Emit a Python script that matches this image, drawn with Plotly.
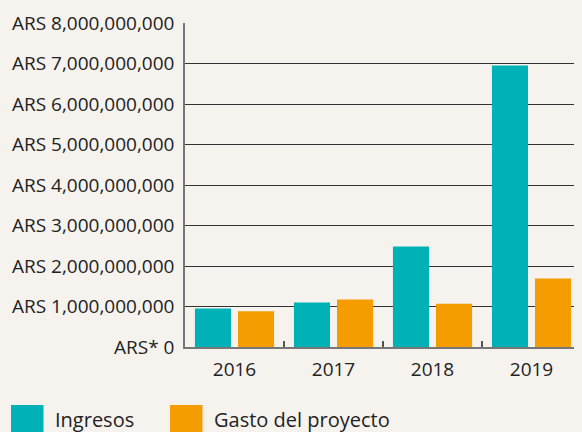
import plotly.graph_objects as go

years = ["2016", "2017", "2018", "2019"]
ingresos = [0.95e9, 1.10e9, 2.48e9, 6.95e9]
gasto = [0.88e9, 1.17e9, 1.07e9, 1.69e9]
series_names = ["Ingresos", "Gasto del proyecto"]
tick_vals = [0, 1e9, 2e9, 3e9, 4e9, 5e9, 6e9, 7e9, 8e9]
tick_text = ["ARS* 0", "ARS 1,000,000,000", "ARS 2,000,000,000", "ARS 3,000,000,000",
             "ARS 4,000,000,000", "ARS 5,000,000,000", "ARS 6,000,000,000",
             "ARS 7,000,000,000", "ARS 8,000,000,000"]

TEAL = "#00b1b7"
ORANGE = "#f59c00"
BG = "#f6f3ee"
TXT = "#222222"
FONT = "Open Sans"

OFF = 8  # page body margin offset
W, H = 582, 432
# desired screen positions of the plot area
SX0, SX1, SY0, SY1 = 185, 581, 23, 347
L, T = SX0 - OFF, SY0 - OFF
R = W - (SX1 - OFF)
B = H - (SY1 - OFF)
PW, PH = SX1 - SX0, SY1 - SY0

def px(x):
    return (x - SX0) / PW

def py(y):
    return (SY1 - y) / PH

fig = go.Figure()
fig.add_bar(x=years, y=ingresos, name=series_names[0], marker_color=TEAL, marker_line_width=0)
fig.add_bar(x=years, y=gasto, name=series_names[1], marker_color=ORANGE, marker_line_width=0)

fig.update_layout(
    width=W, height=H,
    margin=dict(l=L, r=R, t=T, b=B, pad=0, autoexpand=False),
    paper_bgcolor=BG, plot_bgcolor=BG,
    barmode="group", bargap=0.13, bargroupgap=0.163,
    showlegend=False,
    font=dict(family=FONT, size=19, color=TXT),
    xaxis=dict(
        automargin=False,
        showgrid=False, showline=True, linecolor="#777777", linewidth=1.5,
        ticks="inside", tickson="boundaries", ticklen=6, tickcolor="#555555", tickwidth=1.5,
        ticklabelstandoff=4,
        tickfont=dict(family=FONT, size=19, color=TXT),
    ),
    yaxis=dict(
        automargin=False,
        range=[0, 8e9], tickvals=tick_vals, ticktext=tick_text,
        showgrid=True, gridcolor="#333333", gridwidth=1,
        zeroline=False, showline=True, linecolor="#777777", linewidth=1.5,
        ticks="", ticklabelstandoff=5,
        tickfont=dict(family=FONT, size=19, color=TXT),
    ),
)

# custom legend with large square swatches
legend_items = [(11, 43.5, TEAL, series_names[0], 53), (170, 202.5, ORANGE, series_names[1], 212)]
for x0, x1, col, name, tx in legend_items:
    fig.add_shape(type="rect", xref="paper", yref="paper",
                  x0=px(x0), x1=px(x1), y0=py(405), y1=py(445),
                  fillcolor=col, line_width=0, layer="above")
    fig.add_annotation(xref="paper", yref="paper", x=px(tx), y=py(420),
                       xanchor="left", yanchor="middle", text=name, showarrow=False,
                       font=dict(family=FONT, size=20, color=TXT))

fig.write_html("out.html", post_script="document.body.style.background='%s';" % BG)
